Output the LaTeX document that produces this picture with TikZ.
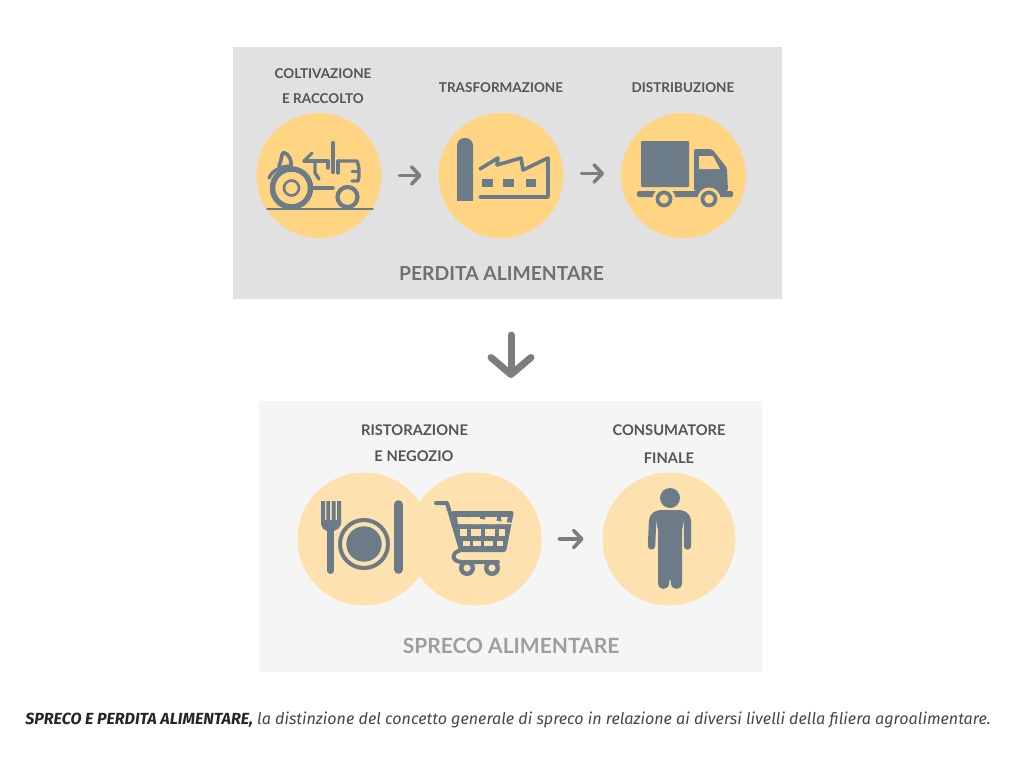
\documentclass[tikz,border=0pt]{standalone}
\usepackage{fontspec}
\setmainfont{Lato}
\newfontfamily\capfont[BoldFont={Fira Sans},BoldItalicFont={Fira Sans Bold Italic}]{Fira Sans}
\usetikzlibrary{arrows.meta}
\definecolor{panelA}{HTML}{E1E1E1}
\definecolor{panelB}{HTML}{F5F5F5}
\definecolor{sunA}{HTML}{FFD583}
\definecolor{sunB}{HTML}{FDE1AE}
\definecolor{slate}{HTML}{6B7C88}
\definecolor{arrowgrey}{HTML}{7D7D7D}
\definecolor{labelgrey}{HTML}{555555}
\tikzset{
  x=1pt,y=-1pt,
  panel/.style={inner sep=0,outer sep=0,draw=none},
  disc/.style={circle,inner sep=0,outer sep=0,draw=none,minimum size=#1},
  steplabel/.style={font=\bfseries\fontsize{13.5}{14}\selectfont,text=labelgrey,inner sep=0},
  lowlabel/.style={font=\bfseries\fontsize{14.7}{15}\selectfont,text=labelgrey,inner sep=0},
  flow/.style={draw=arrowgrey,line width=3.6pt,line cap=round,-{Straight Barb[length=8pt,width=17pt,line width=3.6pt,round]}},
  bigflow/.style={draw=arrowgrey,line width=7pt,line cap=round,-{Straight Barb[length=17pt,width=40pt,line width=7pt,round]}},
  icon/.style={fill=slate,draw=none},
  iconline/.style={draw=slate,line cap=round,line join=round,fill=none},
}
\begin{document}
\begin{tikzpicture}
\useasboundingbox (0,0) rectangle (1022,768);
\fill[white] (0,0) rectangle (1022,768);
% panels
\node[panel,fill=panelA,minimum width=549pt,minimum height=252pt] (pA) at (507.5,173) {};
\node[panel,fill=panelB,minimum width=503pt,minimum height=271pt] (pB) at (510.5,536.5) {};
% discs
\node[disc=125pt,fill=sunA] (c1) at (319,175.5) {};
\node[disc=125pt,fill=sunA] (c2) at (501,175.5) {};
\node[disc=125pt,fill=sunA] (c3) at (683.5,175.5) {};
\node[disc=133pt,fill=sunB] (c4) at (364,539) {};
\node[disc=133pt,fill=sunB] (c5) at (475,539) {};
\node[disc=133pt,fill=sunB] (c6) at (669,539) {};
% connectors
\draw[flow,shorten <=18pt,shorten >=17pt] (c1) -- (c2);
\draw[flow,shorten <=18pt,shorten >=17pt] ([yshift=2pt]c2.east) -- ([yshift=2pt]c3.west);
\draw[flow,shorten <=18pt,shorten >=19pt] (c5.east) -- (c6.west);
\coordinate (bigtop) at (511,299);
\coordinate (bigend) at (511,401);
\draw[bigflow,shorten <=36pt,shorten >=23pt] (bigtop) -- (bigend);
% labels
\node[steplabel] (t1a) at (323,74) {COLTIVAZIONE};
\node[steplabel] (t1b) at (323,99) {E RACCOLTO};
\node[steplabel] (t2) at (501,88) {TRASFORMAZIONE};
\node[steplabel] (t3) at (683,88) {DISTRIBUZIONE};
\node[font=\bfseries\fontsize{19.3}{22}\selectfont,inner sep=0,text=arrowgrey!90!black] (tA) at (501.5,274) {PERDITA ALIMENTARE};
\node[lowlabel] (t4a) at (414.5,430) {RISTORAZIONE};
\node[lowlabel] (t4b) at (414,456) {E NEGOZIO};
\node[lowlabel] (t5a) at (669,430) {CONSUMATORE};
\node[lowlabel] (t5b) at (669,458) {FINALE};
\node[font=\bfseries\fontsize{21}{22}\selectfont,inner sep=0,text=black!38] (tB) at (511,646) {SPRECO ALIMENTARE};
\node[inner sep=0,font=\capfont\fontsize{16.1}{18}\selectfont\itshape,text=black!72] (cap) at (508,720) {{\bfseries\color{black!85}SPRECO E PERDITA ALIMENTARE,} la distinzione del concetto generale di spreco in relazione ai diversi livelli della filiera agroalimentare.};
% tractor
\draw[iconline,line width=1.8pt] (267,209) -- (373,209);
\draw[iconline,line width=5.5pt] (291.5,188) circle (19);
\draw[iconline,line width=2.6pt] (291.5,188) circle (7.5);
\draw[iconline,line width=4.2pt] (347.5,197) circle (10);
\draw[iconline,line width=3.4pt] (312,188) -- (333,188);
\draw[iconline,line width=3.4pt] (269,178) .. controls (272,171) and (280,166) .. (291,166);
\draw[iconline,line width=3.6pt] (279,166) .. controls (282,160) and (281,153) .. (284,152.5) .. controls (289,154) and (292,161) .. (291,166);
\draw[iconline,line width=3pt] (304,161) -- (312,153);
\draw[iconline,line width=3.4pt] (304,161) -- (328,161);
\draw[iconline,line width=3.4pt] (338,161) -- (357,161) .. controls (359,165) and (360,175) .. (358,181) -- (352,181);
\draw[iconline,line width=3.4pt] (315,162) -- (315,173) -- (319,179);
\draw[iconline,line width=3.4pt] (328,161) -- (328,168);
\draw[iconline,line width=3.4pt] (338,161) -- (338,173);
\draw[iconline,line width=4.2pt] (333,143) -- (333,172);
\draw[iconline,line width=3pt] (352,171) -- (358,171);
% factory
\fill[icon,rounded corners=7.5pt] (457,215) -- (457,138) -- (473,138) -- (473,215) -- cycle;
\fill[sunA] (455,200.5) rectangle (475,220);
\draw[iconline,line width=3.6pt] (480,169) -- (498,158) -- (497,165) -- (521,158) -- (523,170) -- (548,158) -- (548,197) -- (480,197);
\fill[icon] (482,179) rectangle (493,187);
\fill[icon] (503,179) rectangle (514,187);
\fill[icon] (526,179) rectangle (536,187);
% truck
\fill[icon,rounded corners=1pt] (641,141) rectangle (689,187);
\fill[icon,rounded corners=2pt] (694,149) -- (712,149) -- (727,168) -- (728,191) -- (694,191) -- cycle;
\fill[sunA] (699,156) -- (713,156) -- (720,169) -- (699,169) -- cycle;
\fill[icon,rounded corners=1.5pt] (637,191) rectangle (733,197);
\fill[sunA] (664,199) circle (11.5) (709,199) circle (11.5);
\draw[iconline,line width=3.8pt] (664,199) circle (6.5);
\draw[iconline,line width=3.8pt] (709,199) circle (6.5);
% fork
\fill[icon] (321,501) rectangle (325,522) (326.3,501) rectangle (330.2,522) (331.8,501) rectangle (335.7,522) (337,501) rectangle (341,522);
\fill[icon] (321,520) -- (341,520) -- (341,524) .. controls (340,528) and (337,530) .. (334,531) -- (327.5,531) .. controls (324,530) and (322,528) .. (321,524) -- cycle;
\draw[iconline,line width=7pt] (330.5,528) -- (330.5,570.5);
% plate
\draw[iconline,line width=4pt] (364,544) circle (24);
\fill[icon] (364,544) circle (17.7);
% knife
\draw[iconline,line width=8.6pt] (398.5,504.5) -- (398.5,569.5);
% cart
\draw[iconline,line width=4pt] (436,503) -- (447,503) -- (461,550) .. controls (450,553) and (452,562) .. (462,562) -- (498,562);
\fill[icon,rounded corners=2.5pt] (451,511) -- (514,511) -- (506,552) -- (460,552) -- cycle;
\foreach \a/\b/\c/\d/\e in {457/517/464/522/524,468/517/480/479/524,485/517/497/496/524,501/517/508/506/524}
  \fill[sunB] (\a,\b) -- (\c,\b) -- (\d,\e) -- ({\a+1},\e) -- cycle;
\foreach \a/\b/\c/\d in {460/529/467/536,471/529/481/536,485/529/495/536,499/529/505/536,463/540.5/470/546,473/540.5/481/546,484/540.5/493/546,497/540.5/503/546}
  \fill[sunB] (\a,\b) rectangle (\c,\d);
\draw[iconline,line width=4.4pt] (467,568) circle (5.8);
\draw[iconline,line width=4.4pt] (492,568) circle (5.8);
% person
\fill[icon] (670,498) circle (10);
\fill[icon] (660,510) -- (680,510) .. controls (684,511) and (685,513) .. (684,520) -- (682,530) -- (682,584) .. controls (682,590) and (672,591) .. (671,584) -- (670.5,580) -- (669.5,580) -- (669,584) .. controls (668,591) and (658,590) .. (658,584) -- (658,530) -- (656,520) .. controls (655,513) and (656,511) .. (660,510) -- cycle;
\draw[iconline,line width=7.4pt] (659,514) .. controls (654,515) and (652.5,518) .. (652.5,524) -- (651.5,546);
\draw[iconline,line width=7.4pt] (681,514) .. controls (686,515) and (687.5,518) .. (687.5,524) -- (687.5,546);
\end{tikzpicture}
\end{document}
